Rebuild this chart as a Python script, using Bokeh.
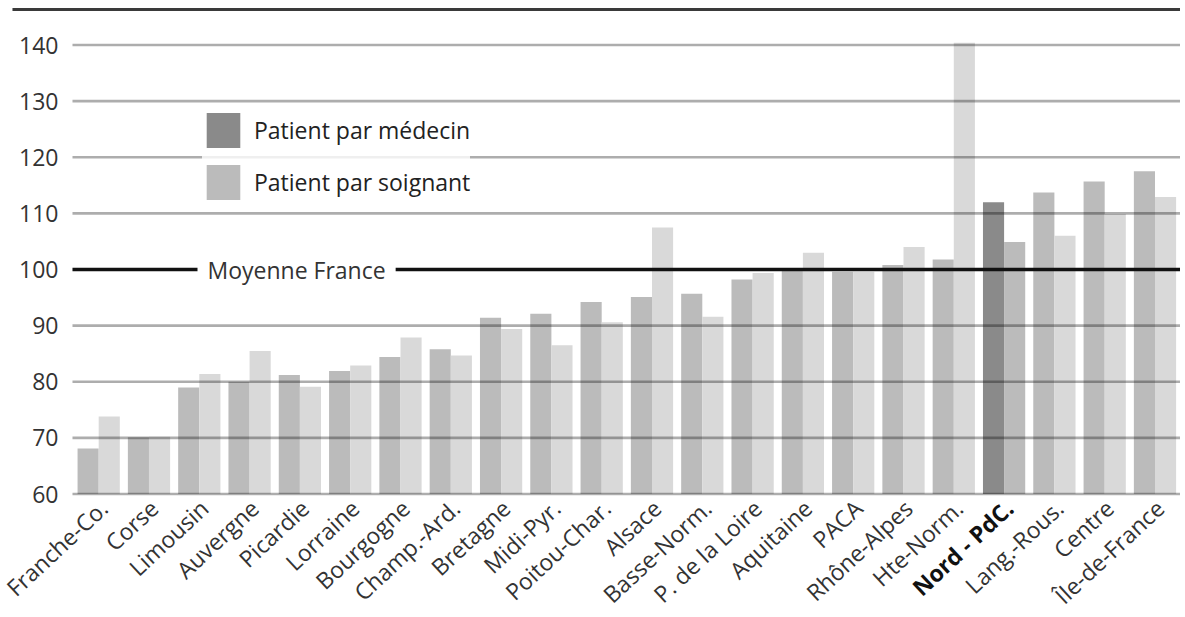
from bokeh.plotting import figure
from bokeh.models import (ColumnDataSource, Range1d, FixedTicker, Legend,
                          LegendItem, Label)
from bokeh.transform import dodge
from bokeh.core.properties import value
from bokeh.embed import file_html
from bokeh.resources import INLINE

# ---------------- data ----------------
regions = ["Franche-Co.", "Corse", "Limousin", "Auvergne", "Picardie", "Lorraine",
           "Bourgogne", "Champ.-Ard.", "Bretagne", "Midi-Pyr.", "Poitou-Char.",
           "Alsace", "Basse-Norm.", "P. de la Loire", "Aquitaine", "PACA",
           "Rhône-Alpes", "Hte-Norm.", "Nord - PdC.", "Lang.-Rous.", "Centre",
           "Île-de-France"]
medecin = [68.1, 70.1, 79.0, 80.0, 81.2, 81.9, 84.4, 85.8, 91.4, 92.1, 94.2,
           95.1, 95.7, 98.2, 99.8, 99.6, 100.8, 101.8, 112.0, 113.7, 115.7, 117.5]
soignant = [73.8, 70.2, 81.4, 85.5, 79.1, 82.9, 87.9, 84.7, 89.4, 86.5, 90.6,
            107.5, 91.6, 99.4, 103.0, 99.6, 104.0, 140.4, 104.9, 106.0, 109.9, 112.9]
series_labels = ["Patient par médecin", "Patient par soignant"]
highlight = "Nord - PdC."
y_ticks = [60, 70, 80, 90, 100, 110, 120, 130, 140]
reference_level = 100
reference_label = "Moyenne France"

# ---------------- styling / layout ----------------
FONT = "Open Sans"
FS = "23px"
W, H = 1180, 612
X_START, X_END = -1.952, 21.507      # category index units across the whole canvas
Y_START, Y_END = 38.89, 147.93
AXIS_X = -0.521                      # where the value axis / grid lines begin
TOP_RULE_X = -1.714
TOP_RULE_Y = 146.33

n = len(regions)
hi = regions.index(highlight)
source = ColumnDataSource(dict(
    idx=list(range(n)),
    region=regions,
    medecin=medecin,
    soignant=soignant,
    med_color=["#8a8a8a" if r == highlight else "#bbbbbb" for r in regions],
    soi_color=["#bbbbbb" if r == highlight else "#d9d9d9" for r in regions],
    fstyle=["bold" if r == highlight else "normal" for r in regions],
    fcolor=["#111111" if r == highlight else "#333333" for r in regions],
    base=[y_ticks[0]] * n,
))

p = figure(x_range=Range1d(X_START, X_END), y_range=Range1d(Y_START, Y_END),
           width=W, height=H, output_backend="svg", toolbar_location=None,
           min_border=0, min_border_left=0, min_border_right=0,
           min_border_top=0, min_border_bottom=0)

p.background_fill_color = "white"
p.border_fill_color = "white"
p.outline_line_color = None
p.xgrid.visible = False
p.ygrid.visible = False
p.xaxis.visible = False

yax = p.yaxis[0]
yax.fixed_location = AXIS_X
yax.ticker = FixedTicker(ticks=y_ticks)
yax.axis_line_color = None
yax.major_tick_line_color = None
yax.minor_tick_line_color = None
yax.major_tick_out = 0
yax.major_tick_in = 0
yax.major_label_standoff = 14
yax.major_label_text_font = FONT
yax.major_label_text_font_size = FS
yax.major_label_text_color = "#333333"

# bars
r_med = p.vbar(x=dodge("idx", -0.21), top="medecin", bottom=y_ticks[0],
               width=0.42, source=source, fill_color="med_color", line_color=None)
r_soi = p.vbar(x=dodge("idx", 0.21), top="soignant", bottom=y_ticks[0],
               width=0.42, source=source, fill_color="soi_color", line_color=None)

# grid lines drawn over the bars
grid_values = [t for t in y_ticks if t != reference_level]
p.segment(x0=[AXIS_X] * len(grid_values), x1=[X_END] * len(grid_values),
          y0=grid_values, y1=grid_values,
          line_color="black", line_alpha=0.32, line_width=2.7)

# top rule
p.segment(x0=[TOP_RULE_X], x1=[X_END], y0=[TOP_RULE_Y], y1=[TOP_RULE_Y],
          line_color="#3a3a3a", line_width=3)

# reference line
p.segment(x0=[AXIS_X], x1=[X_END], y0=[reference_level], y1=[reference_level],
          line_color="#111111", line_width=3.5)
p.add_layout(Label(x=197, y=reference_level, x_units="screen", y_units="data",
                   text=reference_label, text_font=FONT, text_font_size=FS,
                   text_color="#333333", text_baseline="middle",
                   background_fill_color="white", padding=10))

# category labels
p.text(x="idx", y="base", text="region", source=source,
       angle=43, angle_units="deg", text_align="right", text_baseline="middle",
       x_offset=5, y_offset=10,
       text_font=value(FONT), text_font_size=value(FS),
       text_font_style="fstyle", text_color="fcolor")

legend = Legend(items=[LegendItem(label=series_labels[0], renderers=[r_med], index=hi),
                       LegendItem(label=series_labels[1], renderers=[r_soi], index=hi)],
                location=(202, 408), glyph_width=42, glyph_height=44,
                label_standoff=10, spacing=8, padding=12, margin=0,
                label_text_font=FONT, label_text_font_size=FS,
                label_text_color="#222222", background_fill_alpha=0.8,
                border_line_color=None)
p.add_layout(legend)

open("out.html", "w").write(file_html(p, INLINE))
